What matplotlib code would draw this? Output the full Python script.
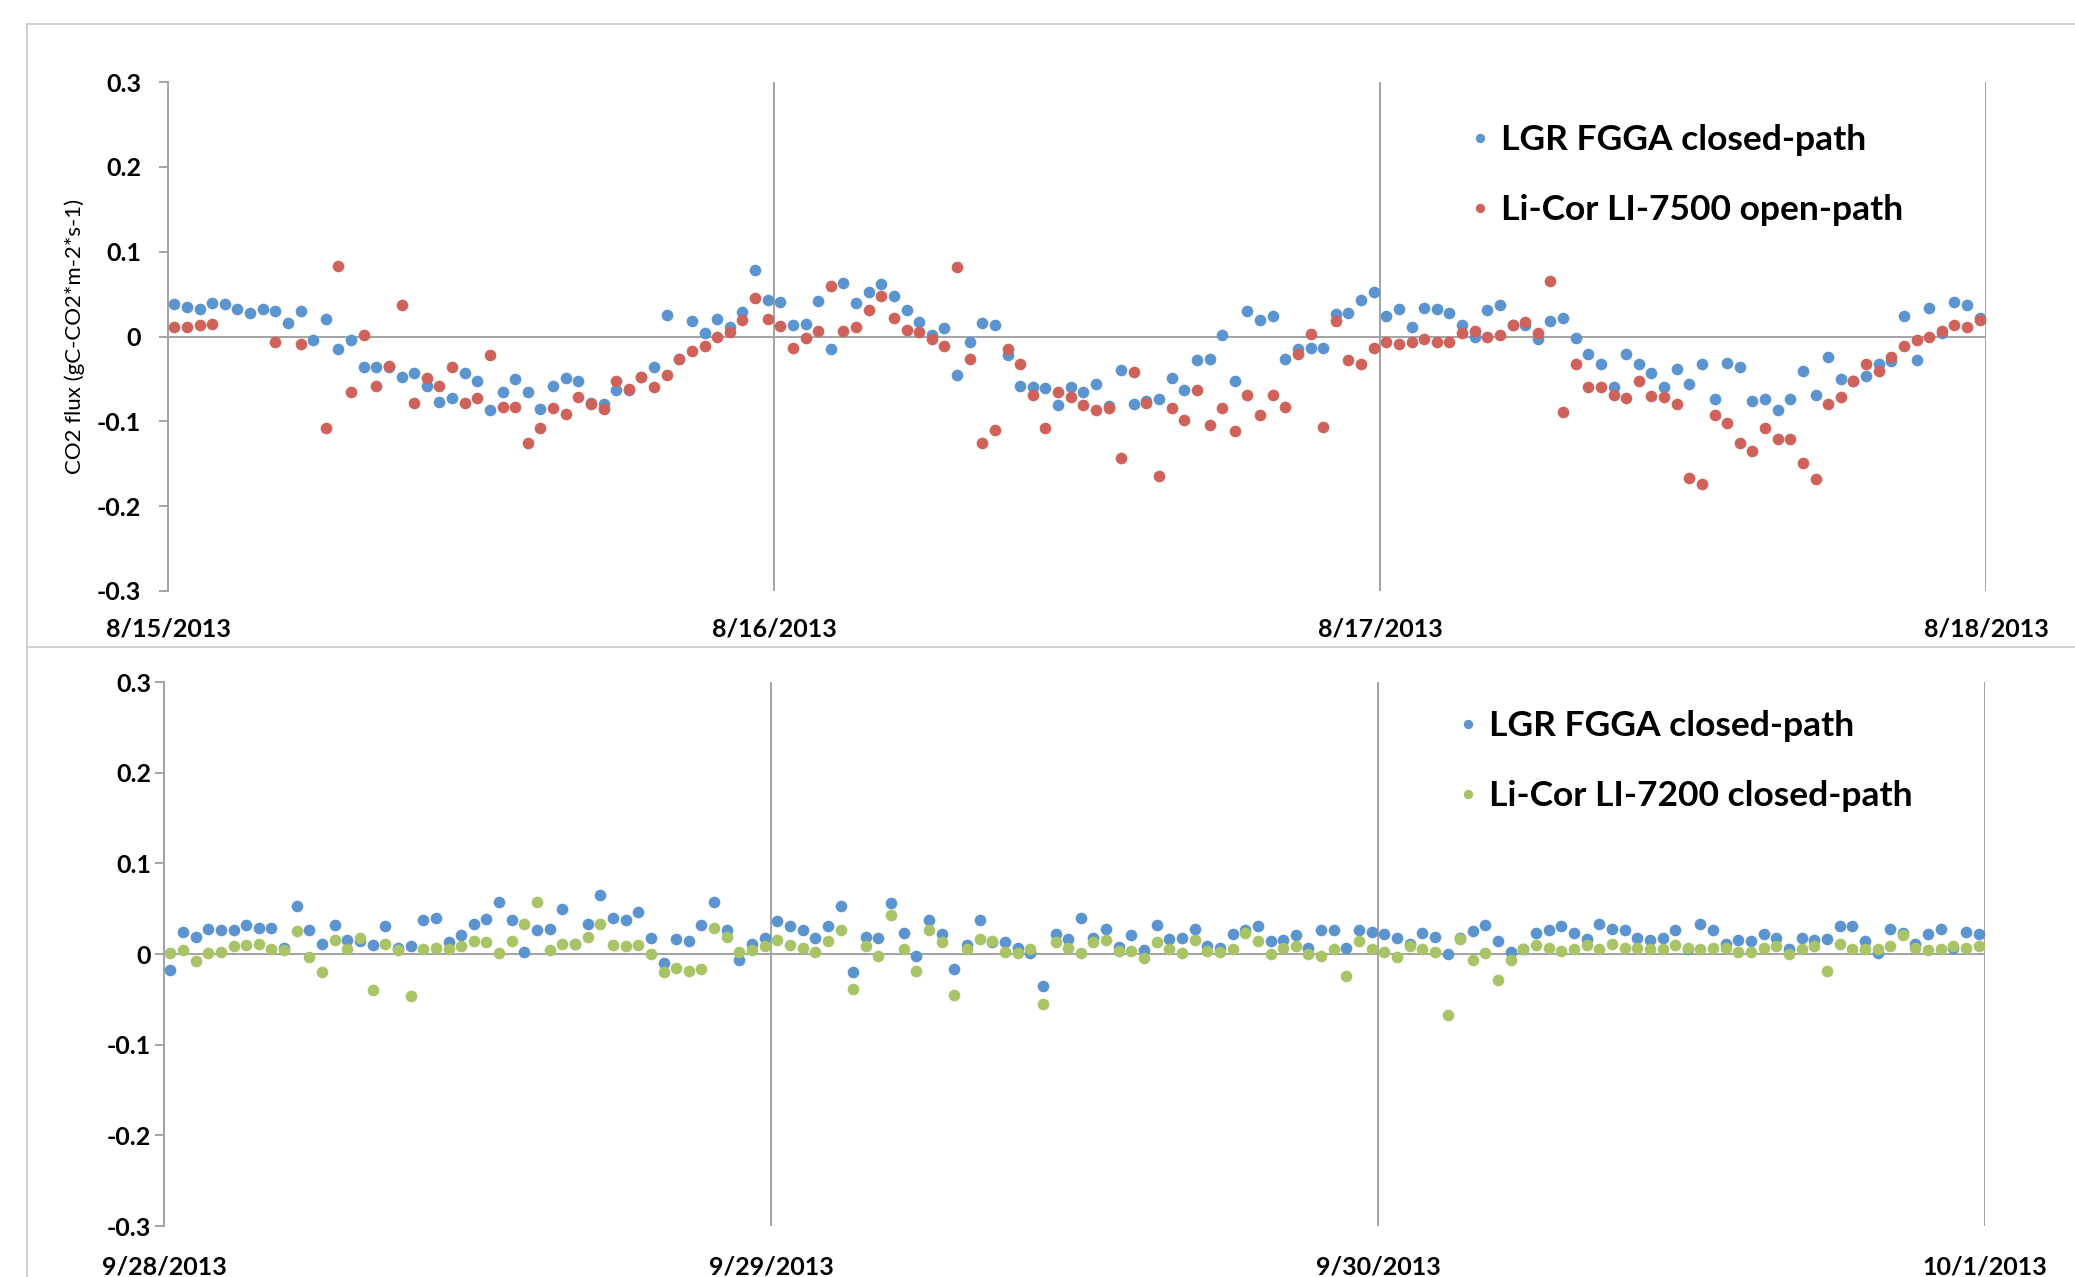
import numpy as np
import pandas as pd
import matplotlib
matplotlib.use("Agg")
import matplotlib.pyplot as plt
import matplotlib.dates as mdates
from matplotlib.lines import Line2D
from matplotlib.ticker import FuncFormatter, MultipleLocator

plt.rcParams['font.family'] = ['Lato', 'DejaVu Sans']

# half-hourly CO2 flux, gC-CO2 m-2 s-1
aug_times = pd.date_range("2013-08-15 00:15", periods=144, freq="30min")
sep_times = pd.date_range("2013-09-28 00:15", periods=144, freq="30min")

lgr_aug = [
    0.038, 0.035, 0.032, 0.039, 0.038, 0.032, 0.028, 0.032, 0.030, 0.016, 0.030, -0.004,
    0.021, -0.015, -0.004, -0.036, -0.036, -0.036, -0.048, -0.043, -0.058, -0.077, -0.072, -0.043,
    -0.053, -0.087, -0.066, -0.050, -0.065, -0.085, -0.058, -0.049, -0.053, -0.078, -0.079, -0.063,
    -0.063, -0.048, -0.036, 0.025, -0.027, 0.018, 0.004, 0.021, 0.011, 0.029, 0.078, 0.043,
    0.041, 0.014, 0.015, 0.042, -0.015, 0.063, 0.039, 0.052, 0.062, 0.048, 0.031, 0.017,
    0.002, 0.010, -0.045, -0.007, 0.016, 0.013, -0.022, -0.058, -0.060, -0.061, -0.081, -0.059,
    -0.066, -0.056, -0.082, -0.039, -0.080, -0.076, -0.074, -0.049, -0.063, -0.028, -0.026, 0.002,
    -0.052, 0.030, 0.020, 0.024, -0.026, -0.015, -0.014, -0.014, 0.027, 0.028, 0.043, 0.053,
    0.024, 0.032, 0.011, 0.034, 0.032, 0.028, 0.014, 0.000, 0.031, 0.037, 0.014, 0.014,
    -0.003, 0.018, 0.022, -0.002, -0.021, -0.033, -0.059, -0.021, -0.032, -0.043, -0.059, -0.038,
    -0.056, -0.033, -0.074, -0.031, -0.036, -0.076, -0.074, -0.087, -0.074, -0.041, -0.069, -0.024,
    -0.050, -0.052, -0.046, -0.032, -0.029, 0.024, -0.028, 0.034, 0.004, 0.041, 0.037, 0.022,
]
li7500_aug = [
    0.011, 0.011, 0.013, 0.015, np.nan, np.nan, np.nan, np.nan, -0.007, np.nan, -0.009, np.nan,
    -0.108, 0.083, -0.065, 0.002, -0.058, -0.035, 0.037, -0.078, -0.049, -0.058, -0.036, -0.078,
    -0.073, -0.022, -0.083, -0.083, -0.126, -0.108, -0.084, -0.091, -0.071, -0.080, -0.085, -0.053,
    -0.062, -0.048, -0.059, -0.045, -0.026, -0.017, -0.011, 0.000, 0.005, 0.020, 0.045, 0.021,
    0.012, -0.014, -0.002, 0.006, 0.059, 0.006, 0.011, 0.031, 0.048, 0.022, 0.008, 0.005,
    -0.003, -0.011, 0.082, -0.026, -0.126, -0.110, -0.015, -0.032, -0.069, -0.108, -0.066, -0.071,
    -0.081, -0.087, -0.084, -0.143, -0.042, -0.078, -0.164, -0.084, -0.098, -0.063, -0.104, -0.084,
    -0.111, -0.069, -0.093, -0.069, -0.083, -0.021, 0.003, -0.107, 0.018, -0.028, -0.033, -0.013,
    -0.006, -0.009, -0.006, -0.003, -0.006, -0.006, 0.004, 0.007, 0.000, 0.002, 0.014, 0.017,
    0.004, 0.066, -0.089, -0.032, -0.060, -0.060, -0.069, -0.073, -0.053, -0.070, -0.071, -0.080,
    -0.167, -0.174, -0.093, -0.102, -0.125, -0.135, -0.108, -0.121, -0.121, -0.149, -0.168, -0.080,
    -0.071, -0.053, -0.033, -0.041, -0.024, -0.011, -0.004, 0.000, 0.007, 0.014, 0.011, 0.020,
]
lgr_sep = [
    -0.018, 0.024, 0.019, 0.028, 0.026, 0.027, 0.032, 0.029, 0.029, 0.007, 0.053, 0.026,
    0.011, 0.032, 0.015, 0.014, 0.010, 0.031, 0.007, 0.009, 0.038, 0.040, 0.013, 0.021,
    0.033, 0.039, 0.057, 0.038, 0.002, 0.026, 0.028, 0.050, 0.011, 0.033, 0.065, 0.040,
    0.038, 0.046, 0.018, -0.010, 0.017, 0.014, 0.032, 0.057, 0.026, -0.007, 0.011, 0.018,
    0.036, 0.031, 0.027, 0.018, 0.031, 0.053, -0.020, 0.019, 0.018, 0.056, 0.023, -0.002,
    0.038, 0.022, -0.016, 0.010, 0.038, 0.013, 0.013, 0.007, 0.001, -0.035, 0.022, 0.016,
    0.040, 0.018, 0.028, 0.008, 0.021, 0.004, 0.032, 0.017, 0.018, 0.028, 0.009, 0.007,
    0.022, 0.027, 0.031, 0.014, 0.015, 0.021, 0.007, 0.027, 0.027, 0.007, 0.027, 0.024,
    0.022, 0.018, 0.011, 0.023, 0.019, 0.000, 0.018, 0.025, 0.032, 0.014, 0.002, 0.006,
    0.023, 0.026, 0.031, 0.023, 0.017, 0.033, 0.028, 0.026, 0.018, 0.015, 0.018, 0.026,
    0.006, 0.033, 0.026, 0.011, 0.015, 0.014, 0.022, 0.018, 0.006, 0.018, 0.015, 0.017,
    0.031, 0.031, 0.014, 0.001, 0.028, 0.023, 0.011, 0.022, 0.028, 0.007, 0.024, 0.022,
]
li7200_sep = [
    0.001, 0.004, -0.008, 0.001, 0.002, 0.009, 0.010, 0.011, 0.006, 0.004, 0.025, -0.003,
    -0.020, 0.015, 0.006, 0.018, -0.040, 0.011, 0.004, -0.046, 0.006, 0.007, 0.005, 0.009,
    0.014, 0.013, 0.001, 0.014, 0.033, 0.057, 0.004, 0.011, 0.011, 0.019, 0.033, 0.010,
    0.009, 0.010, 0.000, -0.020, -0.015, -0.019, -0.016, 0.029, 0.019, 0.002, 0.004, 0.009,
    0.015, 0.010, 0.007, 0.002, 0.014, 0.027, -0.039, 0.009, -0.002, 0.043, 0.005, -0.019,
    0.026, 0.013, -0.045, 0.005, 0.017, 0.014, 0.002, 0.001, 0.006, -0.055, 0.013, 0.007,
    0.001, 0.013, 0.015, 0.003, 0.003, -0.004, 0.013, 0.005, 0.001, 0.015, 0.003, 0.002,
    0.006, 0.023, 0.014, 0.000, 0.007, 0.009, 0.000, -0.002, 0.006, -0.024, 0.014, 0.005,
    0.002, -0.003, 0.009, 0.005, 0.002, -0.067, 0.017, -0.007, 0.001, -0.029, -0.007, 0.005,
    0.010, 0.007, 0.003, 0.006, 0.010, 0.006, 0.011, 0.007, 0.007, 0.006, 0.005, 0.010,
    0.007, 0.006, 0.007, 0.007, 0.002, 0.002, 0.007, 0.009, 0.000, 0.005, 0.009, -0.019,
    0.011, 0.005, 0.006, 0.006, 0.009, 0.021, 0.007, 0.004, 0.006, 0.009, 0.007, 0.009,
]

BLUE = "#5B94CE"
RED = "#CF625A"
GREEN = "#A8C466"
AXIS_GREY = "#A3A3A3"
FRAME_GREY = "#C4C4C4"
MS = 8.4

fig = plt.figure(figsize=(20.75, 12.77), dpi=100)
W, H = 2075.0, 1277.0


def fx(px):
    return px / W


def fy(py):
    return 1 - py / H


def date_label(x, pos):
    d = mdates.num2date(x)
    return f"{d.month}/{d.day}/{d.year}"


def flux_label(v, pos):
    return "0" if abs(v) < 1e-9 else f"{v:.1f}"


def setup(ax, start, ypad, xpad):
    days = pd.date_range(start, periods=4, freq="D")
    ax.set_xlim(days[0], days[-1])
    ax.set_ylim(-0.3, 0.3)
    ax.set_xticks(days)
    ax.xaxis.set_major_formatter(FuncFormatter(date_label))
    ax.yaxis.set_major_locator(MultipleLocator(0.1))
    ax.yaxis.set_major_formatter(FuncFormatter(flux_label))
    for s in ("top", "right", "bottom"):
        ax.spines[s].set_visible(False)
    ax.spines["left"].set_color(AXIS_GREY)
    ax.spines["left"].set_linewidth(1.4)
    ax.grid(axis="x", color=AXIS_GREY, lw=1.4)
    ax.axhline(0, color=AXIS_GREY, lw=1.4, zorder=1)
    ax.tick_params(axis="x", length=0, pad=xpad, labelsize=18)
    ax.tick_params(axis="y", length=6.2, width=1.4, color=AXIS_GREY,
                   pad=ypad, labelsize=18)
    for lab in ax.get_xticklabels() + ax.get_yticklabels():
        lab.set_fontweight("bold")
    ax.set_facecolor("none")


def add_legend(ax, x, y):
    ax.legend(loc="upper left", bbox_to_anchor=(fx(x), fy(y)),
              bbox_transform=fig.transFigure, frameon=False,
              prop={"size": 25.5, "weight": "bold"}, handlelength=0.6,
              handletextpad=0.3, labelspacing=1.08, borderpad=0,
              borderaxespad=0, markerscale=0.8)


# upper panel: August comparison
ax1 = fig.add_axes([fx(168), fy(591), fx(1986 - 168), (591 - 82) / H])
ax1.plot(aug_times, lgr_aug, "o", ms=MS, mew=0, color=BLUE,
         label="LGR FGGA closed-path", zorder=3)
ax1.plot(aug_times, li7500_aug, "o", ms=MS, mew=0, color=RED,
         label="Li-Cor LI-7500 open-path", zorder=4)
setup(ax1, "2013-08-15", 13, 19)
fig.text(fx(75), fy(336), "CO2 flux (gC-CO2*m-2*s-1)", rotation=90,
         ha="center", va="center", fontsize=16)
add_legend(ax1, 1469, 124)

# lower panel: September comparison
ax2 = fig.add_axes([fx(164), fy(1226), fx(1985 - 164), (1226 - 682) / H])
ax2.plot(sep_times, lgr_sep, "o", ms=MS, mew=0, color=BLUE,
         label="LGR FGGA closed-path", zorder=3)
ax2.plot(sep_times, li7200_sep, "o", ms=MS, mew=0, color=GREEN,
         label="Li-Cor LI-7200 closed-path", zorder=4)
setup(ax2, "2013-09-28", 3, 21)
add_legend(ax2, 1457, 710)

# chart frames
for xs, ys in [((27, W), (24, 24)), ((27, 27), (24, H)), ((27, W), (647, 647))]:
    fig.add_artist(Line2D([fx(x) for x in xs], [fy(y) for y in ys],
                          color=FRAME_GREY, lw=1.1))

fig.savefig("out.png", dpi=100)
